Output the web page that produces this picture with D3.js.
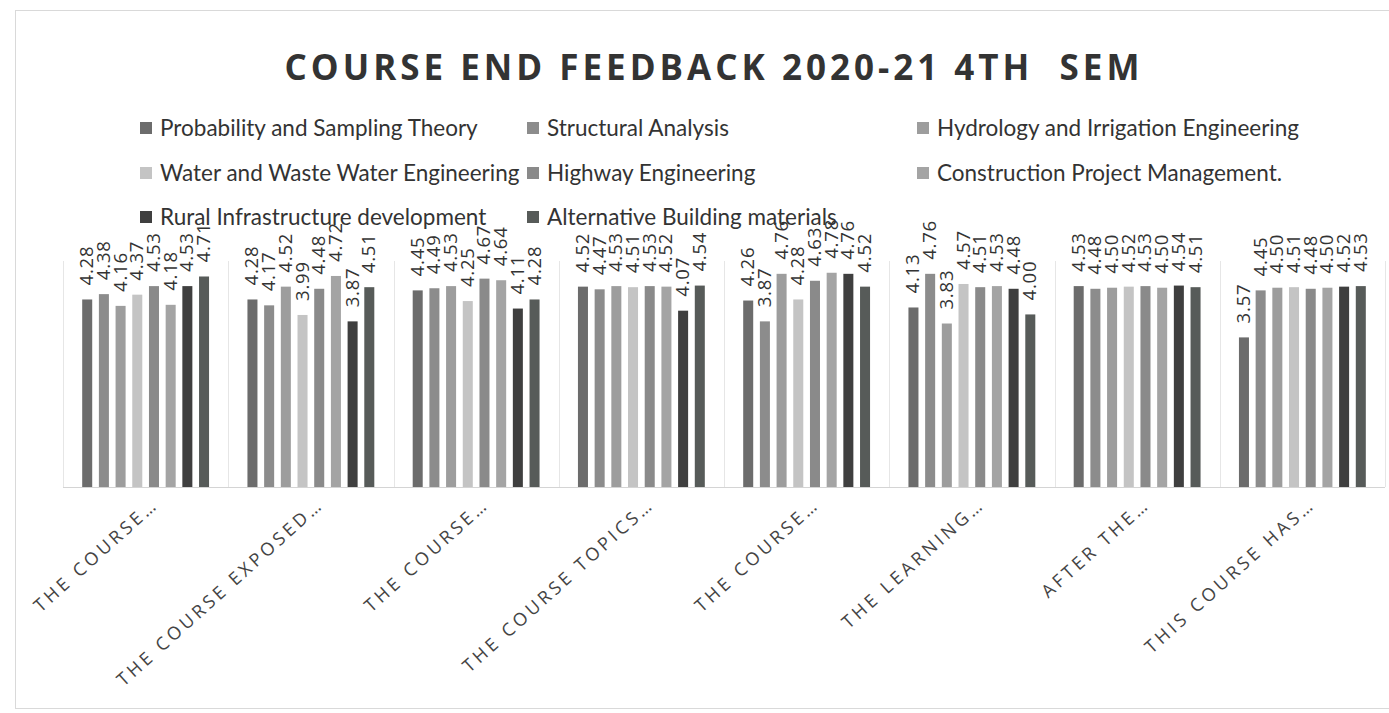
<!DOCTYPE html>
<html>
<head>
<meta charset="utf-8">
<script src="https://cdn.jsdelivr.net/npm/d3@7"></script>
<style>
  html, body { margin: 0; padding: 0; background: #fff; }
  svg { display: block; }
</style>
</head>
<body>
<svg width="1389" height="713"></svg>
<script>
(function() {
  'use strict';

  //Questions (x axis categories), truncated like in the sheet
  var questions = ["THE COURSE\u2026", "THE COURSE EXPOSED\u2026", "THE COURSE\u2026", "THE COURSE TOPICS\u2026",
                   "THE COURSE\u2026", "THE LEARNING\u2026", "AFTER THE\u2026", "THIS COURSE HAS\u2026"];

  //Subjects (one series each)
  var subjects = ["Probability and Sampling Theory", "Structural Analysis", "Hydrology and Irrigation Engineering",
                  "Water and Waste Water Engineering", "Highway Engineering", "Construction Project Management.",
                  "Rural Infrastructure development", "Alternative Building materials"];

  //Feedback scores, one array per subject, one value per question
  var probability   = [4.28, 4.28, 4.45, 4.52, 4.26, 4.13, 4.53, 3.57];
  var structural    = [4.38, 4.17, 4.49, 4.47, 3.87, 4.76, 4.48, 4.45];
  var hydrology     = [4.16, 4.52, 4.53, 4.53, 4.76, 3.83, 4.50, 4.50];
  var water         = [4.37, 3.99, 4.25, 4.51, 4.28, 4.57, 4.52, 4.51];
  var highway       = [4.53, 4.48, 4.67, 4.53, 4.63, 4.51, 4.53, 4.48];
  var construction  = [4.18, 4.72, 4.64, 4.52, 4.78, 4.53, 4.50, 4.50];
  var rural         = [4.53, 3.87, 4.11, 4.07, 4.76, 4.48, 4.54, 4.52];
  var alternative   = [4.71, 4.51, 4.28, 4.54, 4.52, 4.00, 4.51, 4.53];

  var series = [probability, structural, hydrology, water, highway, construction, rural, alternative];
  var colors = ["#6c6c6c", "#8c8c8c", "#9d9d9d", "#c4c4c4", "#8a8a8a", "#a4a4a4", "#3f3f3f", "#575b59"];

  var svg = d3.select("svg");

  //Chart border
  svg.append("rect")
  .attr("x", 15.5).attr("y", 10.5)
  .attr("width", 1390).attr("height", 698)
  .attr("fill", "none")
  .attr("stroke", "#d9d9d9");

  //Title
  svg.append("text")
  .attr("x", 714)
  .attr("y", 80)
  .attr("text-anchor", "middle")
  .style("font-family", "'Open Sans', sans-serif")
  .style("font-weight", "bold")
  .style("font-size", "35px")
  .style("letter-spacing", "4px")
  .attr("fill", "#333")
  .attr("xml:space", "preserve")
  .text("COURSE END FEEDBACK 2020-21 4TH  SEM");

  //Legend (3 columns x 3 rows, row-major)
  var legendCols = [140, 527, 917],
  legendRows = [128, 173, 217];

  var legend = svg.selectAll(".legend")
  .data(subjects)
  .enter().append("g")
  .attr("class", "legend")
  .attr("transform", function(d, i) {
    // the 8 entries fill the grid row by row, 3 per row
    return "translate(" + legendCols[i % 3] + "," + legendRows[Math.floor(i / 3)] + ")";
  });

  legend.append("rect")
  .attr("x", 0).attr("y", -6)
  .attr("width", 12).attr("height", 12)
  .attr("fill", function(d, i) { return colors[i]; });

  legend.append("text")
  .attr("x", 20)
  .attr("y", 8)
  .style("font-family", "Lato, sans-serif")
  .style("font-size", "22.5px")
  .attr("fill", "#333")
  .text(function(d) { return d; });

  //Scales
  var x0 = d3.scaleBand().domain(d3.range(questions.length)).range([63, 1385]);
  var x1 = d3.scaleBand().domain(d3.range(subjects.length))
  .range([0, x0.bandwidth()]).paddingInner(0.4).paddingOuter(1.15);
  var y = d3.scaleLinear().domain([0.77, 5]).range([487, 261]);

  //Separators between question groups
  svg.append("g")
  .selectAll("line")
  .data(d3.range(questions.length + 1))
  .enter().append("line")
  .attr("x1", function(d) { return Math.round(x0.range()[0] + d * x0.step()) + 0.5; })
  .attr("x2", function(d) { return Math.round(x0.range()[0] + d * x0.step()) + 0.5; })
  .attr("y1", y(5))
  .attr("y2", y(0.77))
  .attr("stroke", "#e6e6e6");

  //Baseline
  svg.append("line")
  .attr("x1", x0.range()[0]).attr("x2", x0.range()[1])
  .attr("y1", y(0.77) + 0.5).attr("y2", y(0.77) + 0.5)
  .attr("stroke", "#d4d4d4");

  //Bars
  var groups = svg.selectAll(".group")
  .data(questions)
  .enter().append("g")
  .attr("class", "group")
  .attr("transform", function(d, i) { return "translate(" + x0(i) + ",0)"; });

  groups.selectAll(".bar")
  .data(function(d, qi) {
    return series.map(function(s, si) { return {s: si, v: s[qi]}; });
  })
  .enter().append("rect")
  .attr("class", "bar")
  .attr("x", function(d) { return x1(d.s); })
  .attr("y", function(d) { return y(d.v); })
  .attr("width", x1.bandwidth())
  .attr("height", function(d) { return y(0.77) - y(d.v); })
  .attr("fill", function(d) { return colors[d.s]; });

  //Value labels, rotated, above each bar
  groups.selectAll(".val")
  .data(function(d, qi) {
    return series.map(function(s, si) { return {s: si, v: s[qi]}; });
  })
  .enter().append("text")
  .attr("class", "val")
  .attr("transform", function(d) {
    return "translate(" + (x1(d.s) + x1.bandwidth() / 2 + 6) + "," + (y(d.v) - 14) + ") rotate(-90)";
  })
  .style("font-family", "'Open Sans', sans-serif")
  .style("font-size", "18.5px")
  .style("letter-spacing", "0.8px")
  .attr("fill", "#333")
  .text(function(d) { return d.v.toFixed(2); });

  //Category labels, slanted
  svg.selectAll(".qlabel")
  .data(questions)
  .enter().append("text")
  .attr("class", "qlabel")
  .attr("text-anchor", "end")
  .attr("transform", function(d, i) {
    return "translate(" + (x0(i) + x0.bandwidth() / 2 + 14) + ",506) rotate(-42)";
  })
  .style("font-family", "'Open Sans', sans-serif")
  .style("font-size", "18px")
  .style("letter-spacing", "3.5px")
  .attr("fill", "#444")
  .text(function(d) { return d; });

})();
</script>
</body>
</html>
